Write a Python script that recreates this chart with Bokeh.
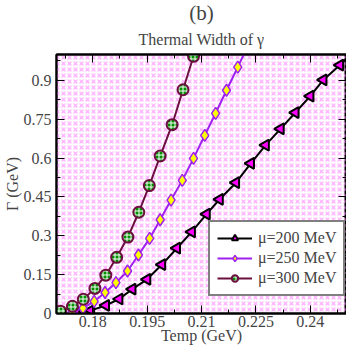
from bokeh.plotting import figure
from bokeh.models import (LinearAxis, FixedTicker, Legend, LegendItem,
                          BoxAnnotation, Title, Range1d, ColumnDataSource)
from bokeh.embed import file_html
from bokeh.resources import INLINE

# ---- data ----
t_200 = [0.1713, 0.1754, 0.1795, 0.1836, 0.1873, 0.1909, 0.1950, 0.1991, 0.2032,
         0.2073, 0.2114, 0.2150, 0.2195, 0.2236, 0.2277, 0.2318, 0.2359, 0.2400,
         0.2436, 0.2482, 0.2523]
g_200 = [-0.018, 0.000, 0.012, 0.031, 0.056, 0.094, 0.132, 0.189, 0.252,
         0.315, 0.384, 0.441, 0.505, 0.580, 0.650, 0.713, 0.776, 0.839,
         0.902, 0.959, 1.017]

t_250 = [0.1712, 0.1743, 0.1773, 0.1804, 0.1834, 0.1864, 0.1896, 0.1926, 0.1957,
         0.1986, 0.2016, 0.2047, 0.2078, 0.2109, 0.2139, 0.2169, 0.2200, 0.2230]
g_250 = [-0.010, 0.006, 0.021, 0.047, 0.081, 0.119, 0.164, 0.226, 0.290,
         0.362, 0.438, 0.514, 0.599, 0.688, 0.773, 0.862, 0.951, 1.040]

t_300 = [0.1711, 0.1744, 0.1774, 0.1806, 0.1836, 0.1866, 0.1897, 0.1927, 0.1956,
         0.1986, 0.2019, 0.2049, 0.2078]
g_300 = [0.009, 0.028, 0.055, 0.097, 0.148, 0.217, 0.295, 0.391, 0.494,
         0.608, 0.729, 0.864, 0.993]

series_labels = ["\u03bc=200 MeV", "\u03bc=250 MeV", "\u03bc=300 MeV"]

x_major = [0.18, 0.195, 0.21, 0.225, 0.24]
x_major_labels = ["0.18", "0.195", "0.21", "0.225", "0.24"]
x_minor = [0.1725, 0.1875, 0.2025, 0.2175, 0.2325, 0.2475]
y_major = [0.0, 0.15, 0.3, 0.45, 0.6, 0.75, 0.9]
y_major_labels = ["0", "0.15", "0.3", "0.45", "0.6", "0.75", "0.9"]
y_minor = [0.075, 0.225, 0.375, 0.525, 0.675, 0.825, 0.975]

FONT = "Liberation Serif"

p = figure(width=346, height=346, x_range=Range1d(0.17, 0.25), y_range=Range1d(0, 1),
           output_backend="svg", toolbar_location=None, title=None,
           min_border_left=4, min_border_right=0, min_border_top=0, min_border_bottom=0)
p.xgrid.visible = False
p.ygrid.visible = False
p.outline_line_color = "black"
p.outline_line_width = 2
p.background_fill_color = "white"

bottom_axis = p.below[0]
left_axis = p.left[0]

bg1 = BoxAnnotation(fill_color=None, line_color=None, hatch_pattern="dot",
                    hatch_color="#ff9cff", hatch_scale=6, hatch_weight=0.1,
                    hatch_alpha=0.75, level="underlay")
bg2 = BoxAnnotation(fill_color=None, line_color=None, hatch_pattern="dot",
                    hatch_color="#ff00ff", hatch_scale=3, hatch_weight=0.1,
                    hatch_alpha=0.3, level="underlay")
p.add_layout(bg1)
p.add_layout(bg2)

top_axis = LinearAxis()
right_axis = LinearAxis()
p.add_layout(top_axis, "above")
p.add_layout(right_axis, "right")

xt = FixedTicker(ticks=x_major, minor_ticks=x_minor)
yt = FixedTicker(ticks=y_major, minor_ticks=y_minor)

for ax in [bottom_axis, top_axis]:
    ax.ticker = xt
for ax in [left_axis, right_axis]:
    ax.ticker = yt

for ax in [bottom_axis, left_axis, top_axis, right_axis]:
    ax.major_tick_in = 8
    ax.major_tick_out = 0
    ax.minor_tick_in = 4
    ax.minor_tick_out = 0
    ax.axis_line_width = 2
    ax.major_tick_line_width = 1
    ax.minor_tick_line_width = 1
    ax.major_label_text_font = FONT
    ax.major_label_text_font_size = "16px"
    ax.axis_label_text_font = FONT
    ax.axis_label_text_font_size = "16px"
    ax.axis_label_text_font_style = "normal"
    ax.major_label_standoff = 4
    ax.axis_label_standoff = 0

bottom_axis.major_label_overrides = dict(zip(x_major, x_major_labels))
left_axis.major_label_overrides = dict(zip(y_major, y_major_labels))
bottom_axis.axis_label = "Temp (GeV)"
left_axis.axis_label = "\u0393 (GeV)"
left_axis.major_label_standoff = 5
bottom_axis.major_label_standoff = 2
bottom_axis.axis_label_standoff = -3
bottom_axis.axis_label_text_line_height = 0.8

for ax in [top_axis, right_axis]:
    ax.major_label_text_font_size = "0px"
    ax.major_label_text_color = None
    ax.major_label_standoff = 0

sub = Title(text="Thermal Width of \u03b3", align="center", text_font=FONT,
            text_font_size="16px", text_font_style="normal", standoff=13)
main = Title(text="(b)", align="center", text_font=FONT,
             text_font_size="21px", text_font_style="normal", standoff=-4)
p.add_layout(sub, "above")
p.add_layout(main, "above")

s200 = ColumnDataSource(dict(x=t_200, y=g_200))
s250 = ColumnDataSource(dict(x=t_250, y=g_250))
s300 = ColumnDataSource(dict(x=t_300, y=g_300))

l1 = p.line("x", "y", source=s200, line_color="black", line_width=2)
m1 = p.scatter("x", "y", source=s200, marker="triangle", angle=1.5708, size=11,
               fill_color="#ff00ff", line_color="black", line_width=2)

l2 = p.line("x", "y", source=s250, line_color="#a020f0", line_width=2)
m2 = p.scatter("x", "y", source=s250, marker="diamond", size=12,
               fill_color="#ffff00", line_color="#a020f0", line_width=1.5)

l3 = p.line("x", "y", source=s300, line_color="#6b0f3f", line_width=2)
m3 = p.scatter("x", "y", source=s300, marker="circle", size=11,
               fill_color="#009000", line_color="#6b0f3f", line_width=2,
               hatch_pattern="+", hatch_color="white", hatch_scale=4, hatch_weight=1)

legend = Legend(items=[LegendItem(label=series_labels[0], renderers=[l1, m1]),
                       LegendItem(label=series_labels[1], renderers=[l2, m2]),
                       LegendItem(label=series_labels[2], renderers=[l3, m3])],
                location=(152, 17), label_text_font=FONT, label_text_font_size="16px",
                border_line_color="black", border_line_width=2,
                background_fill_color="white", background_fill_alpha=1,
                glyph_width=35, glyph_height=16, label_height=16, spacing=2,
                padding=7, margin=0, label_standoff=6)
p.add_layout(legend)

open("out.html", "w").write(file_html(p, INLINE))
